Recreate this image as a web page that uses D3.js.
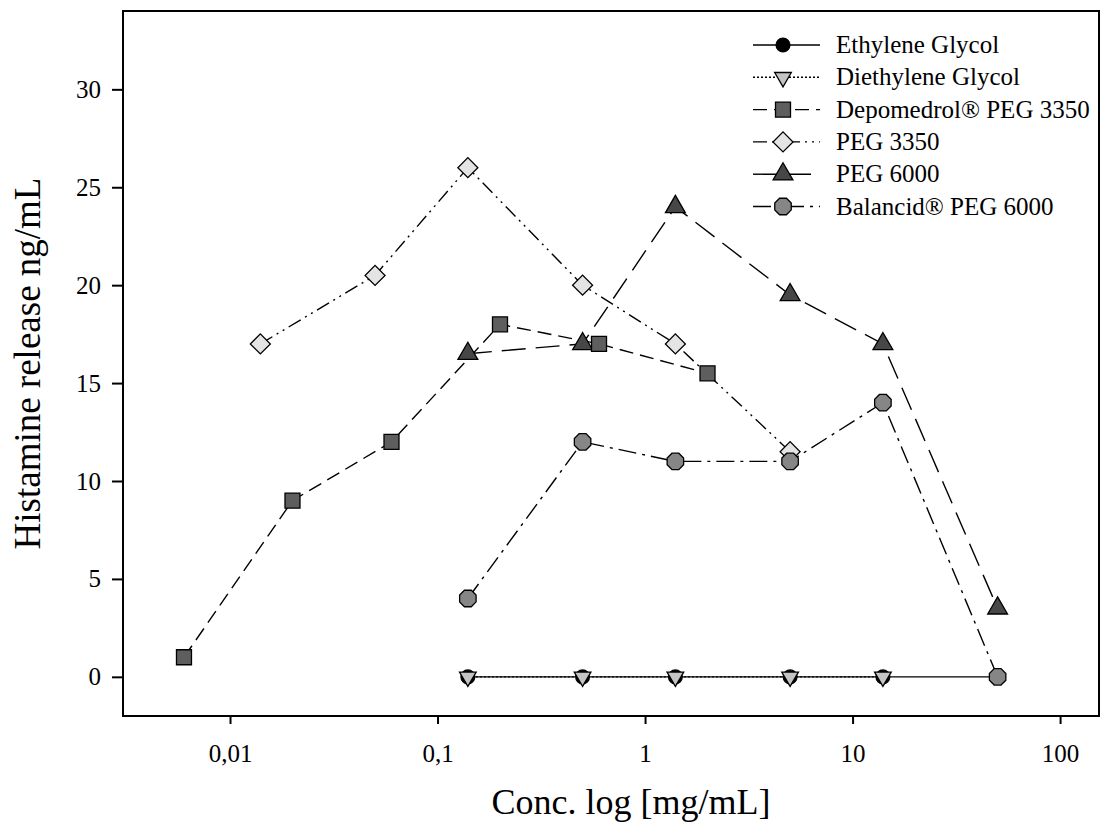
<!DOCTYPE html>
<html>
<head>
<meta charset="utf-8">
<script src="https://cdn.jsdelivr.net/npm/d3@7"></script>
<style>
  html, body { margin: 0; padding: 0; background: #fff; }
  svg text { font-family: "Liberation Serif", "Times New Roman", serif; fill: #000; }
</style>
</head>
<body>
<svg id="chart" width="1101" height="824"></svg>
<script>
// Data
const seriesNames = ["Ethylene Glycol", "Diethylene Glycol", "Depomedrol® PEG 3350", "PEG 3350", "PEG 6000", "Balancid® PEG 6000"];

const ethyleneConc = [0.14, 0.5, 1.4, 5, 14, 50];
const ethyleneRelease = [0, 0, 0, 0, 0, 0];

const diethyleneConc = [0.14, 0.5, 1.4, 5, 14];
const diethyleneRelease = [0, 0, 0, 0, 0];

const depomedrolConc = [0.006, 0.02, 0.06, 0.2, 0.6, 2];
const depomedrolRelease = [1, 9, 12, 18, 17, 15.5];

const peg3350Conc = [0.014, 0.05, 0.14, 0.5, 1.4, 5];
const peg3350Release = [17, 20.5, 26, 20, 17, 11.5];

const peg6000Conc = [0.14, 0.5, 1.4, 5, 14, 50];
const peg6000Release = [16.5, 17, 24, 19.5, 17, 3.5];

const balancidConc = [0.14, 0.5, 1.4, 5, 14, 50];
const balancidRelease = [4, 12, 11, 11, 14, 0];

const xTickValues = [0.01, 0.1, 1, 10, 100];
const xTickLabels = ["0,01", "0,1", "1", "10", "100"];
const yTickValues = [0, 5, 10, 15, 20, 25, 30];

// Layout
const svg = d3.select("#chart");
const margin = {top: 11, right: 2, bottom: 108, left: 123};
const width = 1101 - margin.left - margin.right;
const height = 824 - margin.top - margin.bottom;

const x = d3.scaleLog().domain([0.00305, 154]).range([0, width]);
const y = d3.scaleLinear().domain([-2, 34]).range([height, 0]);

const g = svg.append("g").attr("transform", `translate(${margin.left},${margin.top})`);

// Octagon marker
const symbolOctagon = {
    draw(context, size) {
        const r = Math.sqrt(size / (2 * Math.SQRT2));
        for (let i = 0; i < 8; i++) {
            const a = Math.PI / 8 + i * Math.PI / 4;
            const px = r * Math.cos(a), py = r * Math.sin(a);
            if (i === 0) context.moveTo(px, py); else context.lineTo(px, py);
        }
        context.closePath();
    }
};

const styles = [
    {dash: null, type: d3.symbolCircle, size: 150, fill: "#000", rotate: 0},
    {dash: "2,2", type: d3.symbolTriangle, size: 120, fill: "#c4c4c4", rotate: 180},
    {dash: "14,7", type: d3.symbolSquare, size: 225, fill: "#5e5e5e", rotate: 0},
    {dash: "14,5,2,5,2,5", type: d3.symbolSquare, size: 200, fill: "#e4e4e4", rotate: 45},
    {dash: "24,10", type: d3.symbolTriangle, size: 170, fill: "#474747", rotate: 0},
    {dash: "18,6,3,6", type: symbolOctagon, size: 225, fill: "#868686", rotate: 0}
];

const series = [
    [ethyleneConc, ethyleneRelease],
    [diethyleneConc, diethyleneRelease],
    [depomedrolConc, depomedrolRelease],
    [peg3350Conc, peg3350Release],
    [peg6000Conc, peg6000Release],
    [balancidConc, balancidRelease]
].map((s, i) => ({
    name: seriesNames[i],
    style: styles[i],
    points: s[0].map((c, j) => ({conc: c, value: s[1][j]}))
}));

// Frame
g.append("rect")
    .attr("width", width).attr("height", height)
    .attr("fill", "none").attr("stroke", "#000").attr("stroke-width", 2);

// Axes
const xAxis = g.append("g")
    .attr("transform", `translate(0,${height})`)
    .call(d3.axisBottom(x).tickValues(xTickValues)
        .tickFormat((d, i) => xTickLabels[i]).tickSize(8).tickPadding(20));
const yAxis = g.append("g")
    .call(d3.axisLeft(y).tickValues(yTickValues).tickSize(11).tickPadding(11));

[xAxis, yAxis].forEach(a => {
    a.select(".domain").remove();
    a.selectAll(".tick line").attr("stroke", "#000").attr("stroke-width", 2);
    a.selectAll(".tick text").attr("font-size", 25).attr("font-family", "Liberation Serif");
});

// Axis titles
svg.append("text")
    .attr("x", 631).attr("y", 814)
    .attr("text-anchor", "middle").attr("font-size", 36)
    .text("Conc. log [mg/mL]");
svg.append("text")
    .attr("transform", `translate(40,${margin.top + height / 2}) rotate(-90)`)
    .attr("text-anchor", "middle").attr("font-size", 37)
    .text("Histamine release ng/mL");

// Lines
const line = d3.line().x(d => x(d.conc)).y(d => y(d.value));
series.forEach(s => {
    g.append("path")
        .datum(s.points)
        .attr("d", line)
        .attr("fill", "none")
        .attr("stroke", "#000")
        .attr("stroke-width", 1.4)
        .attr("stroke-dasharray", s.style.dash);
});

// Markers
const markerOrder = [0, 1, 4, 2, 3, 5];
markerOrder.forEach(i => {
    const s = series[i];
    g.append("g").selectAll("path")
        .data(s.points)
        .join("path")
        .attr("d", d3.symbol().type(s.style.type).size(s.style.size))
        .attr("transform", d => `translate(${x(d.conc)},${y(d.value)}) rotate(${s.style.rotate})`)
        .attr("fill", s.style.fill)
        .attr("stroke", "#000")
        .attr("stroke-width", 1.3);
});

// Legend
const legend = svg.append("g").attr("transform", "translate(753,45)");
series.forEach((s, i) => {
    const row = legend.append("g").attr("transform", `translate(0,${i * 32.3})`);
    row.append("line")
        .attr("x1", 0).attr("x2", 67).attr("y1", 0).attr("y2", 0)
        .attr("stroke", "#000").attr("stroke-width", 1.4)
        .attr("stroke-dasharray", s.style.dash);
    row.append("path")
        .attr("d", d3.symbol().type(s.style.type).size(s.style.size))
        .attr("transform", `translate(30,0) rotate(${s.style.rotate})`)
        .attr("fill", s.style.fill).attr("stroke", "#000").attr("stroke-width", 1.3);
    row.append("text")
        .attr("x", 83).attr("y", 8)
        .attr("font-size", 25)
        .text(s.name);
});
</script>
</body>
</html>
